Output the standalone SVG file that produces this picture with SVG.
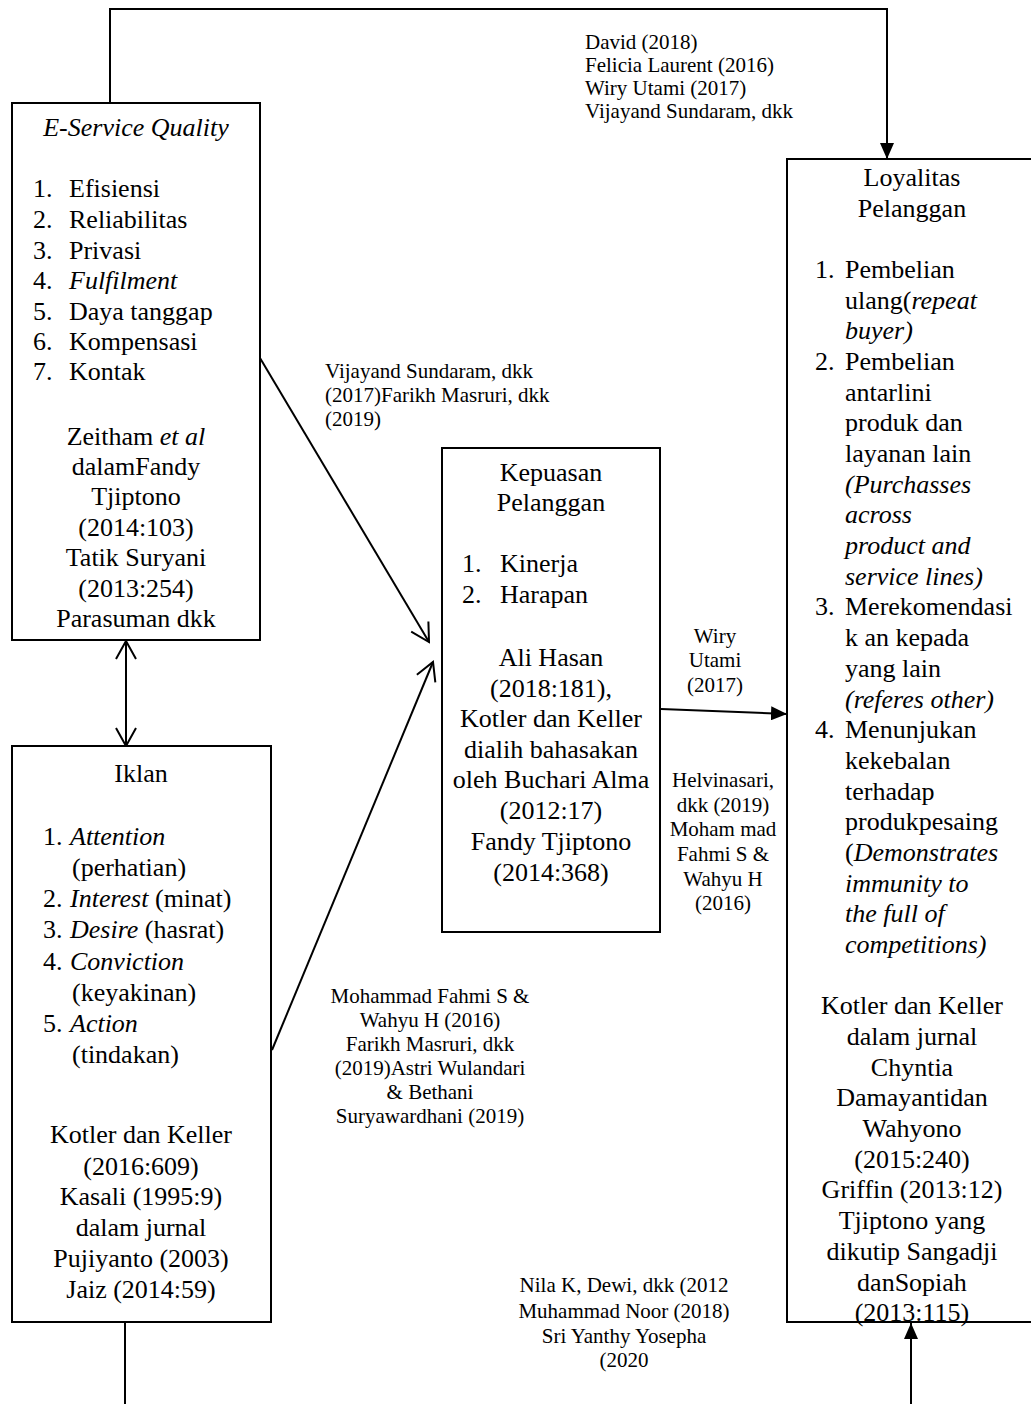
<svg xmlns="http://www.w3.org/2000/svg" width="1031" height="1404" viewBox="0 0 1031 1404">
<style>
text{font-family:"Liberation Serif","Times New Roman",serif;fill:#000}
.t{font-size:26px}
.s{font-size:21px}
.c{text-anchor:middle}
.i{font-style:italic}
.box{fill:#fff;stroke:#000;stroke-width:2}
.ln{fill:none;stroke:#000;stroke-width:2}
</style>
<defs>
<marker id="arrF" viewBox="0 0 16 14" refX="16" refY="7" markerWidth="16" markerHeight="14" markerUnits="userSpaceOnUse" orient="auto"><path d="M0,0 L16,7 L0,14 Z" fill="#000"/></marker>
<marker id="arrO" viewBox="0 0 22 24" refX="20" refY="12" markerWidth="22" markerHeight="24" markerUnits="userSpaceOnUse" orient="auto-start-reverse"><path d="M2,2 L20,12 L2,22" fill="none" stroke="#000" stroke-width="2"/></marker>
</defs>

<g id="connectors">
<polyline class="ln" points="110,103 110,9 887,9 887,159" marker-end="url(#arrF)"/>
<line class="ln" x1="260" y1="358" x2="429" y2="642" marker-end="url(#arrO)"/>
<line class="ln" x1="272" y1="1050" x2="433" y2="662" marker-end="url(#arrO)"/>
<line class="ln" x1="126" y1="641" x2="126" y2="746" marker-start="url(#arrO)" marker-end="url(#arrO)"/>
<line class="ln" x1="661" y1="709" x2="787" y2="714" marker-end="url(#arrF)"/>
<line class="ln" x1="125" y1="1322" x2="125" y2="1404"/>
<line class="ln" x1="911" y1="1404" x2="911" y2="1323" marker-end="url(#arrF)"/>
</g>

<g id="label-top">
<text class="s" x="585" y="49">David (2018)</text>
<text class="s" x="585" y="72">Felicia Laurent (2016)</text>
<text class="s" x="585" y="95">Wiry Utami (2017)</text>
<text class="s" x="585" y="118">Vijayand Sundaram, dkk</text>
</g>
<g id="label-es-kp">
<text class="s" x="325" y="378">Vijayand Sundaram, dkk</text>
<text class="s" x="325" y="402">(2017)Farikh Masruri, dkk</text>
<text class="s" x="325" y="426">(2019)</text>
</g>
<g id="label-kp-lp">
<text class="s c" x="715" y="643">Wiry</text>
<text class="s c" x="715" y="667">Utami</text>
<text class="s c" x="715" y="692">(2017)</text>
</g>
<g id="label-helvi">
<text class="s c" x="723" y="787">Helvinasari,</text>
<text class="s c" x="723" y="812">dkk (2019)</text>
<text class="s c" x="723" y="836">Moham mad</text>
<text class="s c" x="723" y="861">Fahmi S &amp;</text>
<text class="s c" x="723" y="886">Wahyu H</text>
<text class="s c" x="723" y="910">(2016)</text>
</g>
<g id="label-ik-kp">
<text class="s c" x="430" y="1003">Mohammad Fahmi S &amp;</text>
<text class="s c" x="430" y="1027">Wahyu H (2016)</text>
<text class="s c" x="430" y="1051">Farikh Masruri, dkk</text>
<text class="s c" x="430" y="1075">(2019)Astri Wulandari</text>
<text class="s c" x="430" y="1099">&amp; Bethani</text>
<text class="s c" x="430" y="1123">Suryawardhani (2019)</text>
</g>
<g id="label-bottom">
<text class="s c" x="624" y="1292">Nila K, Dewi, dkk (2012</text>
<text class="s c" x="624" y="1318">Muhammad Noor (2018)</text>
<text class="s c" x="624" y="1343">Sri Yanthy Yosepha</text>
<text class="s c" x="624" y="1367">(2020</text>
</g>

<g id="node-eservice">
<rect class="box" x="12" y="103" width="248" height="537"/>
<text class="t c i" x="136" y="136">E-Service Quality</text>
<text class="t" x="33" y="197">1.</text><text class="t" x="69" y="197">Efisiensi</text>
<text class="t" x="33" y="228">2.</text><text class="t" x="69" y="228">Reliabilitas</text>
<text class="t" x="33" y="259">3.</text><text class="t" x="69" y="259">Privasi</text>
<text class="t" x="33" y="289">4.</text><text class="t i" x="69" y="289">Fulfilment</text>
<text class="t" x="33" y="320">5.</text><text class="t" x="69" y="320">Daya tanggap</text>
<text class="t" x="33" y="350">6.</text><text class="t" x="69" y="350">Kompensasi</text>
<text class="t" x="33" y="380">7.</text><text class="t" x="69" y="380">Kontak</text>
<text class="t c" x="136" y="445">Zeitham <tspan class="i">et al</tspan></text>
<text class="t c" x="136" y="475">dalamFandy</text>
<text class="t c" x="136" y="505">Tjiptono</text>
<text class="t c" x="136" y="536">(2014:103)</text>
<text class="t c" x="136" y="566">Tatik Suryani</text>
<text class="t c" x="136" y="597">(2013:254)</text>
<text class="t c" x="136" y="627">Parasuman dkk</text>
</g>

<g id="node-iklan">
<rect class="box" x="12" y="746" width="259" height="576"/>
<text class="t c" x="141" y="782">Iklan</text>
<text class="t" x="43" y="845">1.</text><text class="t i" x="70" y="845">Attention</text>
<text class="t" x="72" y="876">(perhatian)</text>
<text class="t" x="43" y="907">2.</text><text class="t" x="70" y="907"><tspan class="i">Interest</tspan> (minat)</text>
<text class="t" x="43" y="938">3.</text><text class="t" x="70" y="938"><tspan class="i">Desire</tspan> (hasrat)</text>
<text class="t" x="43" y="970">4.</text><text class="t i" x="70" y="970">Conviction</text>
<text class="t" x="72" y="1001">(keyakinan)</text>
<text class="t" x="43" y="1032">5.</text><text class="t i" x="70" y="1032">Action</text>
<text class="t" x="72" y="1063">(tindakan)</text>
<text class="t c" x="141" y="1143">Kotler dan Keller</text>
<text class="t c" x="141" y="1175">(2016:609)</text>
<text class="t c" x="141" y="1205">Kasali (1995:9)</text>
<text class="t c" x="141" y="1236">dalam jurnal</text>
<text class="t c" x="141" y="1267">Pujiyanto (2003)</text>
<text class="t c" x="141" y="1298">Jaiz (2014:59)</text>
</g>

<g id="node-kepuasan">
<rect class="box" x="442" y="448" width="218" height="484"/>
<text class="t c" x="551" y="481">Kepuasan</text>
<text class="t c" x="551" y="511">Pelanggan</text>
<text class="t" x="462" y="572">1.</text><text class="t" x="500" y="572">Kinerja</text>
<text class="t" x="462" y="603">2.</text><text class="t" x="500" y="603">Harapan</text>
<text class="t c" x="551" y="666">Ali Hasan</text>
<text class="t c" x="551" y="697">(2018:181),</text>
<text class="t c" x="551" y="727">Kotler dan Keller</text>
<text class="t c" x="551" y="758">dialih bahasakan</text>
<text class="t c" x="551" y="788">oleh Buchari Alma</text>
<text class="t c" x="551" y="819">(2012:17)</text>
<text class="t c" x="551" y="850">Fandy Tjiptono</text>
<text class="t c" x="551" y="881">(2014:368)</text>
</g>

<g id="node-loyalitas">
<rect class="box" x="787" y="159" width="246" height="1163"/>
<text class="t c" x="912" y="186">Loyalitas</text>
<text class="t c" x="912" y="217">Pelanggan</text>
<text class="t" x="815" y="278">1.</text><text class="t" x="845" y="278">Pembelian</text>
<text class="t" x="845" y="309">ulang(<tspan class="i">repeat</tspan></text>
<text class="t i" x="845" y="339">buyer)</text>
<text class="t" x="815" y="370">2.</text><text class="t" x="845" y="370">Pembelian</text>
<text class="t" x="845" y="401">antarlini</text>
<text class="t" x="845" y="431">produk dan</text>
<text class="t" x="845" y="462">layanan lain</text>
<text class="t i" x="845" y="493">(Purchasses</text>
<text class="t i" x="845" y="523">across</text>
<text class="t i" x="845" y="554">product and</text>
<text class="t i" x="845" y="585">service lines)</text>
<text class="t" x="815" y="615">3.</text><text class="t" x="845" y="615">Merekomendasi</text>
<text class="t" x="845" y="646">k an kepada</text>
<text class="t" x="845" y="677">yang lain</text>
<text class="t i" x="845" y="708">(referes other)</text>
<text class="t" x="815" y="738">4.</text><text class="t" x="845" y="738">Menunjukan</text>
<text class="t" x="845" y="769">kekebalan</text>
<text class="t" x="845" y="800">terhadap</text>
<text class="t" x="845" y="830">produkpesaing</text>
<text class="t" x="845" y="861">(<tspan class="i">Demonstrates</tspan></text>
<text class="t i" x="845" y="892">immunity to</text>
<text class="t i" x="845" y="922">the full of</text>
<text class="t i" x="845" y="953">competitions)</text>
<text class="t c" x="912" y="1014">Kotler dan Keller</text>
<text class="t c" x="912" y="1045">dalam jurnal</text>
<text class="t c" x="912" y="1076">Chyntia</text>
<text class="t c" x="912" y="1106">Damayantidan</text>
<text class="t c" x="912" y="1137">Wahyono</text>
<text class="t c" x="912" y="1168">(2015:240)</text>
<text class="t c" x="912" y="1198">Griffin (2013:12)</text>
<text class="t c" x="912" y="1229">Tjiptono yang</text>
<text class="t c" x="912" y="1260">dikutip Sangadji</text>
<text class="t c" x="912" y="1291">danSopiah</text>
<text class="t c" x="912" y="1321">(2013:115)</text>
</g>
</svg>
